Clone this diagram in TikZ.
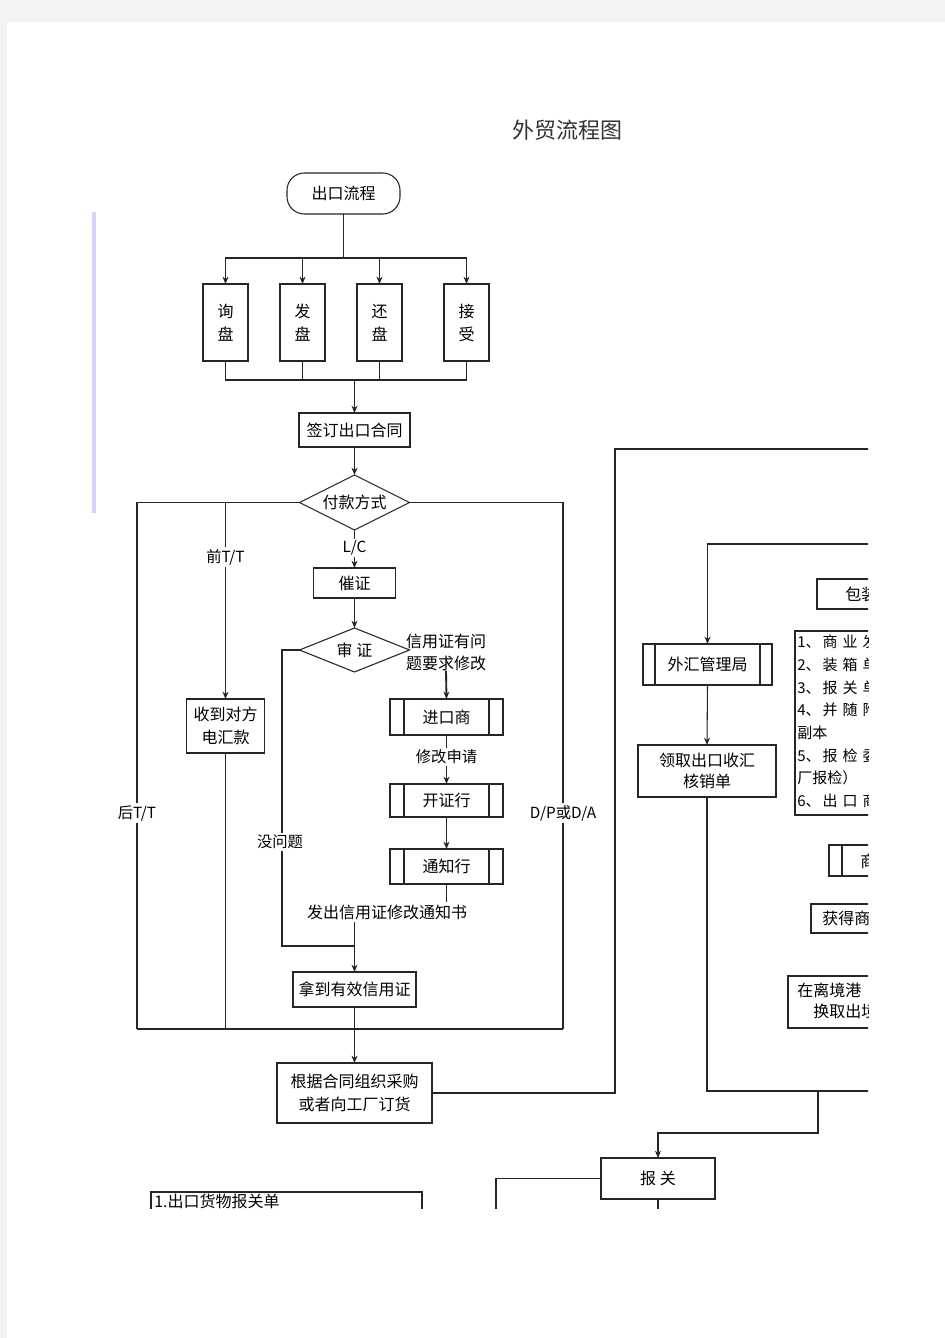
\documentclass[tikz,border=0pt]{standalone}
\usepackage{fontspec}
\setmainfont{Noto Sans CJK SC}
\usetikzlibrary{shapes.geometric,arrows.meta,calc}
\definecolor{pagegray}{HTML}{F3F3F3}
\definecolor{barblue}{RGB}{212,212,255}
\newcommand{\gp}{\hspace{3.75pt}}
\begin{document}
\begin{tikzpicture}[x=0.75pt,y=-0.75pt,
  ln/.style={draw=black!85, line width=0.8pt},
  tk/.style={draw=black!85, line width=1.4pt},
  arr/.style={-{Stealth[length=5.5pt,width=4.5pt]}},
  bw/.style={minimum width=#1*0.75pt},
  bh/.style={minimum height=#1*0.75pt},
  bx/.style={draw=black!85, line width=0.8pt, rectangle, inner sep=0pt, outer sep=0pt, align=center, font=\fontsize{12}{17}\selectfont},
  pbx/.style={bx, path picture={\draw[line width=0.8pt,black!85]
     ([xshift=#1*0.75pt]path picture bounding box.north west) -- ([xshift=#1*0.75pt]path picture bounding box.south west)
     ([xshift=-#1*0.75pt]path picture bounding box.north east) -- ([xshift=-#1*0.75pt]path picture bounding box.south east);}},
  lbl/.style={fill=white, inner sep=1.5pt, font=\fontsize{11.5}{16}\selectfont},
  txt/.style={inner sep=0pt, font=\fontsize{12}{17}\selectfont},
  lst/.style={inner sep=0pt, anchor=west, font=\fontsize{11.25}{16}\selectfont},
  dia/.style={draw=black!85, line width=0.8pt, diamond, inner sep=0pt, outer sep=0pt, font=\fontsize{12}{17}\selectfont}
]
% page
\useasboundingbox (0,0) rectangle (945,1338);
\fill[pagegray] (0,0) rectangle (945,1338);
\fill[white] (7,22) rectangle (945,1338);
\draw[barblue, line width=2.4pt] (94,212) -- (94,513);
\node[inner sep=0pt, font=\fontsize{16.5}{20}\selectfont, text=black!80] (title) at (567,130) {外贸流程图};

\begin{scope}
\clip (0,0) rectangle (868,1208);

% ---- top part
\node[bx, bw=113, bh=41, rounded corners=13pt] (start) at (343.5,193.5) {出口流程};
\node[bx, bw=45, bh=77, font=\fontsize{12}{17.25}\selectfont] (xun) at (225.5,322.5) {询\\盘};
\node[bx, bw=45, bh=77, font=\fontsize{12}{17.25}\selectfont] (fa) at (302.5,322.5) {发\\盘};
\node[bx, bw=45, bh=77, font=\fontsize{12}{17.25}\selectfont] (huan) at (379.5,322.5) {还\\盘};
\node[bx, bw=45, bh=77, font=\fontsize{12}{17.25}\selectfont] (jie) at (466.5,322.5) {接\\受};
\node[bx, bw=111, bh=34] (qd) at (354.5,430) {签订出口合同};
\coordinate (fork) at (343.5,258);
\coordinate (bar) at (354.5,380);
\draw[ln] (start.south) -- (fork);
\draw[ln,arr] (fork) -| (xun.north);
\draw[ln,arr] (fork) -| (fa.north);
\draw[ln,arr] (fork) -| (huan.north);
\draw[ln,arr] (fork) -| (jie.north);
\draw[ln] (xun.south) |- (bar);
\draw[ln] (fa.south) |- (bar);
\draw[ln] (huan.south) |- (bar);
\draw[ln] (jie.south) |- (bar);
\draw[ln,arr] (bar) -- (qd.north);

% ---- payment
\node[dia, shape aspect=2, minimum width=110*0.75pt, minimum height=55*0.75pt] (fk) at (354.5,502.5) {付款方式};
\draw[ln,arr] (qd.south) -- (fk.north);
\node[bx, bw=78, bh=54] (shd) at (225.5,726) {收到对方\\电汇款};
\node[bx, bw=82, bh=30] (cz) at (354.5,583) {催证};
\node[dia, shape aspect=2.5, minimum width=110*0.75pt, minimum height=44*0.75pt] (sz) at (354.5,650) {审\ 证};
\node[txt, align=center, font=\fontsize{12}{16.5}\selectfont] (wt) at (446,652) {信用证有问\\题要求修改};
\node[pbx=14, bw=113, bh=36] (jks) at (446.5,717) {进口商};
\node[pbx=14, bw=113, bh=33] (kzh) at (446.5,800.5) {开证行};
\node[pbx=14, bw=113, bh=35] (tzh) at (446.5,866.5) {通知行};
\node[txt, inner sep=2pt] (fc) at (387,912) {发出信用证修改通知书};
\node[bx, bw=123, bh=35] (nd) at (354.5,989.5) {拿到有效信用证};
\node[bx, bw=155, bh=60, font=\fontsize{12}{17.25}\selectfont] (gj) at (354.5,1093) {根据合同组织采购\\或者向工厂订货};

\coordinate (tt) at (225.5,502.5);
\coordinate (bl) at (137,1029);
\coordinate (br) at (563,1029);
\coordinate (bot) at (354.5,1029);
\coordinate (szl) at (282,650);
\coordinate (szj) at (354.5,946);

\draw[ln] (fk.west) -| (bl);
\draw[ln] (fk.east) -| (br);
\draw[ln,arr] (tt) -- (shd.north);
\draw[ln] (shd.south) -- (shd.south |- bot);
\draw[ln,arr] (fk.south) -- (cz.north);
\draw[ln,arr] (cz.south) -- (sz.north);
\draw[ln] (sz.west) -- (szl) |- (szj);
\draw[tk,arr] (wt.south) -- (jks.north);
\draw[tk,arr] (jks.south) -- (kzh.north);
\draw[tk,arr] (kzh.south) -- (tzh.north);
\draw[tk] (tzh.south) -- (tzh.south |- fc.north);
\draw[ln,arr] (fc.south -| nd.north) -- (nd.north);
\draw[ln] (nd.south) -- (bot);
\draw[tk] (bl) -- (br);
\draw[ln,arr] (bot) -- (gj.north);

\node[lbl] (lc) at (354.5,548) {L/C};
\node[lbl] (qtt) at (225.5,557) {前T/T};
\node[lbl] (htt) at (137,813) {后T/T};
\node[lbl] (dpa) at (563,813) {D/P或D/A};
\node[lbl] (mwt) at (280,842) {没问题};
\node[lbl] (xgsq) at (446.5,757) {修改申请};

% ---- right column
\coordinate (r1) at (880,449);
\coordinate (r2) at (880,544);
\coordinate (r3) at (880,1091);
\coordinate (j3) at (818,1091);
\node[pbx=12, bw=129, bh=41] (whj) at (707.5,664.5) {外汇管理局};
\node[bx, bw=138, bh=52, font=\fontsize{12}{16}\selectfont] (lq) at (707,771) {领取出口收汇\\核销单};
\node[bx, bw=114, bh=41] (bg) at (658,1178.5) {报\ 关};
\draw[tk] (gj.east) -| (615,449) -- (r1);
\draw[ln,arr] (r2) -| (whj.north);
\draw[ln,arr] (whj.south) -- (lq.north);
\draw[ln] (lq.south) |- (r3);
\draw[tk,arr] (j3) -- (818,1133) -| (bg.north);
\draw[ln] (bg.west) -| (496,1220);
\draw[ln] (bg.south) -- ++(0,30);

\node[bx, bw=100, bh=30, anchor=north west] (bz) at (817,579) {};
\node[txt, anchor=west] (bzt) at (845,594) {包装};
\node[bx, bw=120, bh=184, anchor=north west] (lb) at (795,631) {};
\node[lst] (l1) at (797,642) {1、\hspace{1.5pt}商\gp 业\gp 发};
\node[lst] (l2) at (797,664.7) {2、\hspace{1.5pt}装\gp 箱\gp 单};
\node[lst] (l3) at (797,687.4) {3、\hspace{1.5pt}报\gp 关\gp 单};
\node[lst] (l4) at (797,710.1) {4、\hspace{1.5pt}并\gp 随\gp 附};
\node[lst] (l5) at (797,732.8) {副本};
\node[lst] (l6) at (797,755.5) {5、\hspace{1.5pt}报\gp 检\gp 委};
\node[lst] (l7) at (797,778.2) {厂报检）};
\node[lst] (l8) at (797,800.9) {6、\hspace{1.5pt}出\gp 口\gp 商};
\node[pbx=13, bw=120, bh=31, anchor=north west] (sj) at (829,845) {};
\node[txt, anchor=west] (sjt) at (860,861) {商};
\node[bx, bw=100, bh=29, anchor=north west] (hd) at (811,904) {};
\node[txt, anchor=west] (hdt) at (822,918.5) {获得商};
\node[bx, bw=120, bh=52, anchor=north west] (zl) at (788,976) {};
\node[txt, anchor=west] (zl1) at (797,990) {在离境港};
\node[txt, anchor=west] (zl2) at (813,1011) {换取出境};

\node[bx, bw=271, bh=60, anchor=north west] (bgd) at (151,1192) {};
\node[txt, anchor=west] (bgdt) at (154,1201) {1.出口货物报关单};
\end{scope}
\end{tikzpicture}
\end{document}
